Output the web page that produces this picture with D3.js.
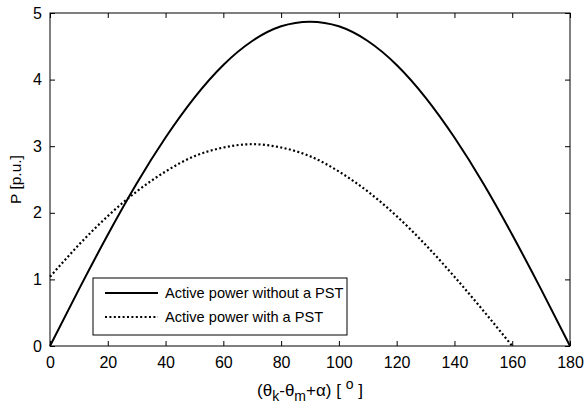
<!DOCTYPE html>
<html>
<head>
<meta charset="utf-8">
<title>Active power vs angle</title>
<script src="https://d3js.org/d3.v7.min.js"></script>
<style>
  body { margin: 0; background: #fff; }
  svg { display: block; font-family: "Liberation Sans", Arial, sans-serif; }
</style>
</head>
<body>
<script>
var w = 585, h = 408;
var margin = {left: 50, right: 15, top: 13, bottom: 62};

// angle values (degrees)
var anglesNoPst = [0, 10, 20, 30, 40, 50, 60, 70, 80, 90, 100, 110, 120, 130, 140, 150, 160, 170, 180];
var powerNoPst = [0, 0.85, 1.67, 2.44, 3.13, 3.73, 4.22, 4.58, 4.80, 4.87, 4.80, 4.58, 4.22, 3.73, 3.13, 2.44, 1.67, 0.85, 0];
var anglesPst = [0, 10, 20, 30, 40, 50, 60, 70, 80, 90, 100, 110, 120, 130, 140, 150, 160];
var powerPst = [1.04, 1.52, 1.95, 2.32, 2.62, 2.85, 2.98, 3.03, 2.98, 2.85, 2.62, 2.32, 1.95, 1.52, 1.04, 0.53, 0];
var xTicks = [0, 20, 40, 60, 80, 100, 120, 140, 160, 180];
var yTicks = [0, 1, 2, 3, 4, 5];
var legendLabels = ["Active power without a PST", "Active power with a PST"];

var svg = d3.select("body").append("svg").attr("width", w).attr("height", h);

var x = d3.scaleLinear().domain([0, 180]).range([margin.left, w - margin.right]);
var y = d3.scaleLinear().domain([0, 5]).range([h - margin.bottom, margin.top]);

// frame
svg.append("rect")
    .attr("x", x(0)).attr("y", y(5))
    .attr("width", x(180) - x(0)).attr("height", y(0) - y(5))
    .attr("fill", "none").attr("stroke", "#000").attr("stroke-width", 1);

// ticks inward on all four sides
var tl = 5;
svg.append("g").attr("transform", "translate(0," + y(0) + ")")
    .call(d3.axisBottom(x).tickValues(xTicks).tickSizeInner(-tl).tickSizeOuter(0).tickPadding(tl + 6).tickFormat(d3.format("d")))
    .call(function(g) { g.select(".domain").remove(); });
svg.append("g").attr("transform", "translate(0," + y(5) + ")")
    .call(d3.axisTop(x).tickValues(xTicks).tickSizeInner(-tl).tickSizeOuter(0).tickFormat(""))
    .call(function(g) { g.select(".domain").remove(); });
svg.append("g").attr("transform", "translate(" + x(0) + ",0)")
    .call(d3.axisLeft(y).tickValues(yTicks).tickSizeInner(-tl).tickSizeOuter(0).tickPadding(tl + 3).tickFormat(d3.format("d")))
    .call(function(g) { g.select(".domain").remove(); });
svg.append("g").attr("transform", "translate(" + x(180) + ",0)")
    .call(d3.axisRight(y).tickValues(yTicks).tickSizeInner(-tl).tickSizeOuter(0).tickFormat(""))
    .call(function(g) { g.select(".domain").remove(); });

svg.selectAll(".tick text").attr("font-size", 16).attr("fill", "#000")
    .attr("font-family", "'Liberation Sans', Arial, sans-serif");
svg.selectAll(".tick line").attr("stroke", "#000");

// curves
var line = d3.line()
    .x(function(d) { return x(d[0]); })
    .y(function(d) { return y(d[1]); })
    .curve(d3.curveNatural);

svg.append("path")
    .datum(d3.zip(anglesNoPst, powerNoPst))
    .attr("d", line)
    .attr("fill", "none").attr("stroke", "#000").attr("stroke-width", 2);

svg.append("path")
    .datum(d3.zip(anglesPst, powerPst))
    .attr("d", line)
    .attr("fill", "none").attr("stroke", "#000").attr("stroke-width", 2.2)
    .attr("stroke-dasharray", "2,2.4");

// legend
var lg = svg.append("g");
lg.append("rect")
    .attr("x", 93).attr("y", 278).attr("width", 254).attr("height", 57)
    .attr("fill", "#fff").attr("stroke", "#000").attr("stroke-width", 1);
legendLabels.forEach(function(lbl, i) {
    var ly = 293 + i * 24;
    lg.append("line")
        .attr("x1", 105).attr("x2", 158).attr("y1", ly).attr("y2", ly)
        .attr("stroke", "#000").attr("stroke-width", 2)
        .attr("stroke-dasharray", i === 0 ? null : "2,2.4");
    lg.append("text")
        .attr("x", 165).attr("y", ly + 5)
        .attr("font-size", 14.6).text(lbl);
});

// y label
svg.append("text")
    .attr("transform", "translate(21," + ((y(0) + y(5)) / 2) + ") rotate(-90)")
    .attr("text-anchor", "middle").attr("font-size", 15.5)
    .text("P [p.u.]");

// x label
var xl = svg.append("text")
    .attr("x", (x(0) + x(180)) / 2).attr("y", 396)
    .attr("text-anchor", "middle").attr("font-size", 17);
xl.append("tspan").text("(\u03b8");
xl.append("tspan").attr("dy", 5).attr("font-size", 14).text("k");
xl.append("tspan").attr("dy", -5).text("-\u03b8");
xl.append("tspan").attr("dy", 5).attr("font-size", 14).text("m");
xl.append("tspan").attr("dy", -5).text("+\u03b1) [ ");
xl.append("tspan").attr("dy", -7).attr("font-size", 14).text("o");
xl.append("tspan").attr("dy", 7).text(" ]");
</script>
</body>
</html>
